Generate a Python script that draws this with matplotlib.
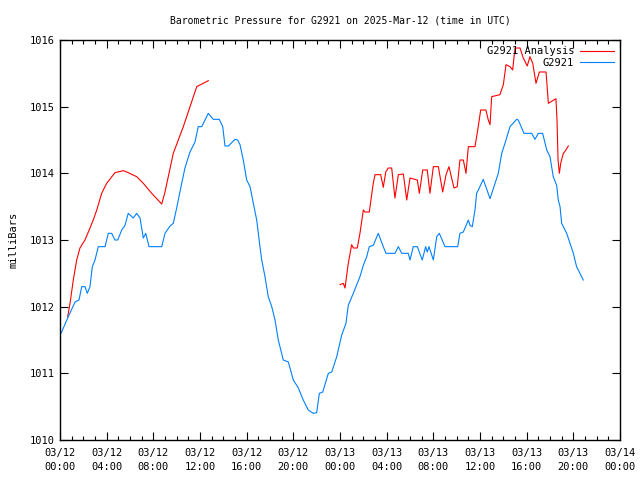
import numpy as np
import matplotlib
matplotlib.use("Agg")
from matplotlib import pyplot as plt
from matplotlib.ticker import MultipleLocator

nan = np.nan

# hours since 2025-03-12 00:00 UTC, pressure in mb
obs_hours = [0.09, 0.71, 1.29, 1.63, 1.86, 2.14, 2.34, 2.57, 2.77, 3.00, 3.28, 3.86, 4.14, 4.43,
             4.71, 4.95, 5.29, 5.57, 5.85, 6.28, 6.57, 6.86, 7.14, 7.35, 7.63, 8.72, 9.00, 9.43,
             9.71, 10.00, 10.43, 10.71, 11.14, 11.57, 11.85, 12.15, 12.43, 12.71, 13.14, 13.65,
             13.95, 14.14, 14.43, 15.00, 15.23, 15.43, 15.71, 16.00, 16.29, 16.57, 16.86, 17.14,
             17.29, 17.57, 17.85, 18.15, 18.43, 18.71, 19.14, 19.57, 20.00, 20.43, 20.85, 21.28,
             21.71, 22.00, 22.23, 22.52, 23.00, 23.29, 23.72, 24.14, 24.51, 24.71, 25.14, 25.71,
             26.00, 26.29, 26.51, 26.85, 27.28, 27.71, 27.94, 28.71, 29.00, 29.29, 29.85, 30.00,
             30.28, 30.63, 31.05, 31.34, 31.48, 31.63, 32.00, 32.29, 32.51, 33.00, 34.09, 34.28,
             34.57, 35.00, 35.14, 35.34, 35.57, 35.71, 35.94, 36.28, 36.86, 37.57, 37.86, 38.14,
             38.57, 39.14, 39.28, 39.77, 40.43, 40.71, 41.00, 41.37, 41.72, 42.00, 42.28, 42.57,
             42.71, 42.86, 43.00, 43.43, 43.71, 44.00, 44.28, 44.57, 44.85]
obs_mb = [1011.60, 1011.85, 1012.07, 1012.10, 1012.30, 1012.30, 1012.20, 1012.30, 1012.60, 1012.70,
          1012.90, 1012.90, 1013.10, 1013.10, 1013.00, 1013.00, 1013.15, 1013.22, 1013.40, 1013.33,
          1013.40, 1013.33, 1013.03, 1013.10, 1012.90, 1012.90, 1013.10, 1013.21, 1013.25, 1013.48,
          1013.85, 1014.08, 1014.32, 1014.47, 1014.70, 1014.70, 1014.80, 1014.90, 1014.81, 1014.81,
          1014.70, 1014.41, 1014.41, 1014.51, 1014.50, 1014.43, 1014.20, 1013.90, 1013.80, 1013.55,
          1013.30, 1012.90, 1012.70, 1012.45, 1012.15, 1012.00, 1011.80, 1011.50, 1011.20, 1011.17,
          1010.90, 1010.78, 1010.60, 1010.45, 1010.40, 1010.41, 1010.70, 1010.72, 1011.00, 1011.02,
          1011.25, 1011.57, 1011.75, 1012.02, 1012.20, 1012.45, 1012.62, 1012.75, 1012.90, 1012.92,
          1013.10, 1012.90, 1012.80, 1012.80, 1012.90, 1012.80, 1012.80, 1012.70, 1012.90, 1012.90,
          1012.70, 1012.90, 1012.82, 1012.90, 1012.70, 1013.05, 1013.10, 1012.90, 1012.90, 1013.10,
          1013.12, 1013.30, 1013.22, 1013.20, 1013.45, 1013.70, 1013.78, 1013.91, 1013.62, 1014.00,
          1014.30, 1014.45, 1014.70, 1014.81, 1014.80, 1014.60, 1014.60, 1014.51, 1014.60, 1014.60,
          1014.35, 1014.25, 1013.95, 1013.82, 1013.60, 1013.50, 1013.25, 1013.10, 1012.95, 1012.80,
          1012.60, 1012.50, 1012.40]

ana_hours = [0.66, 0.86, 1.14, 1.43, 1.71, 2.14, 2.57, 2.85, 3.15, 3.57, 4.00, 4.71, 5.43, 5.85,
             6.57, 7.14, 7.86, 8.72, 9.00, 9.71, 10.57, 11.72, 12.71, 18.0,
             24.00, 24.28, 24.43, 24.71, 25.00, 25.14, 25.48, 25.71, 26.00, 26.14, 26.51, 26.85,
             27.00, 27.49, 27.71, 27.92, 28.14, 28.43, 28.71, 29.00, 29.43, 29.72, 30.00, 30.63,
             30.80, 31.09, 31.48, 31.71, 32.00, 32.43, 32.80, 33.09, 33.34, 33.77, 34.05, 34.28,
             34.57, 34.80, 35.00, 35.57, 35.85, 36.06, 36.51, 36.71, 36.86, 37.00, 37.71, 38.00,
             38.23, 38.57, 38.80, 39.00, 39.43, 39.71, 40.05, 40.28, 40.52, 40.80, 41.09, 41.66,
             41.86, 42.51, 42.60, 42.69, 42.80, 42.92, 43.14, 43.29, 43.57]
ana_mb = [1011.85, 1012.05, 1012.40, 1012.70, 1012.88, 1013.00, 1013.18, 1013.30, 1013.45, 1013.70,
          1013.85, 1014.01, 1014.04, 1014.01, 1013.95, 1013.85, 1013.70, 1013.54, 1013.72, 1014.30,
          1014.70, 1015.30, 1015.39, nan,
          1012.33, 1012.35, 1012.28, 1012.65, 1012.93, 1012.88, 1012.88, 1013.10, 1013.45, 1013.42,
          1013.42, 1013.85, 1013.98, 1013.98, 1013.79, 1014.02, 1014.08, 1014.08, 1013.63, 1013.98,
          1013.99, 1013.60, 1013.93, 1013.90, 1013.70, 1014.05, 1014.05, 1013.70, 1014.10, 1014.10,
          1013.72, 1013.98, 1014.10, 1013.78, 1013.80, 1014.20, 1014.20, 1014.00, 1014.40, 1014.40,
          1014.70, 1014.95, 1014.95, 1014.80, 1014.73, 1015.15, 1015.18, 1015.33, 1015.63, 1015.60,
          1015.55, 1015.88, 1015.88, 1015.73, 1015.61, 1015.75, 1015.65, 1015.35, 1015.52, 1015.52,
          1015.05, 1015.12, 1014.80, 1014.20, 1014.00, 1014.15, 1014.30, 1014.33, 1014.41]

tick_hours = list(range(0, 49, 4))
tick_labels = ["03/12\n00:00", "03/12\n04:00", "03/12\n08:00", "03/12\n12:00", "03/12\n16:00",
               "03/12\n20:00", "03/13\n00:00", "03/13\n04:00", "03/13\n08:00", "03/13\n12:00",
               "03/13\n16:00", "03/13\n20:00", "03/14\n00:00"]

plt.rcParams['font.family'] = ['DejaVu Sans Mono']
plt.rcParams['font.size'] = 7.5

fig = plt.figure(figsize=(6.4, 4.8), dpi=100)
ax = fig.add_axes([60 / 640, 40 / 480, 560 / 640, 400 / 480])

ax.plot(ana_hours, ana_mb, color='#ff0000', lw=0.8, label='G2921 Analysis')
ax.plot(obs_hours, obs_mb, color='#0080ff', lw=0.8, label='G2921')

ax.set_xlim(0, 48)
ax.set_ylim(1010, 1016)
ax.set_xticks(tick_hours)
ax.set_xticklabels(tick_labels, linespacing=1.4)
ax.xaxis.set_minor_locator(MultipleLocator(1))
ax.set_yticks(range(1010, 1017))
ax.tick_params(which='major', direction='in', length=6, width=0.8,
               top=True, right=True, pad=4)
ax.tick_params(axis='x', which='major', pad=6)
ax.tick_params(which='minor', direction='in', length=3, width=0.8, top=True, bottom=True)
ax.tick_params(axis='y', which='minor', left=False, right=False)
for s in ax.spines.values():
    s.set_linewidth(1.0)

ax.set_ylabel('milliBars', labelpad=8)
ax.set_title('Barometric Pressure for G2921 on 2025-Mar-12 (time in UTC)', fontsize=7, pad=12)

ax.legend(loc='upper right', frameon=False, markerfirst=False, handlelength=3.2,
          borderaxespad=0.2, labelspacing=0.15, handletextpad=0.6, fontsize=7.5)

fig.savefig('out.png', dpi=100)
